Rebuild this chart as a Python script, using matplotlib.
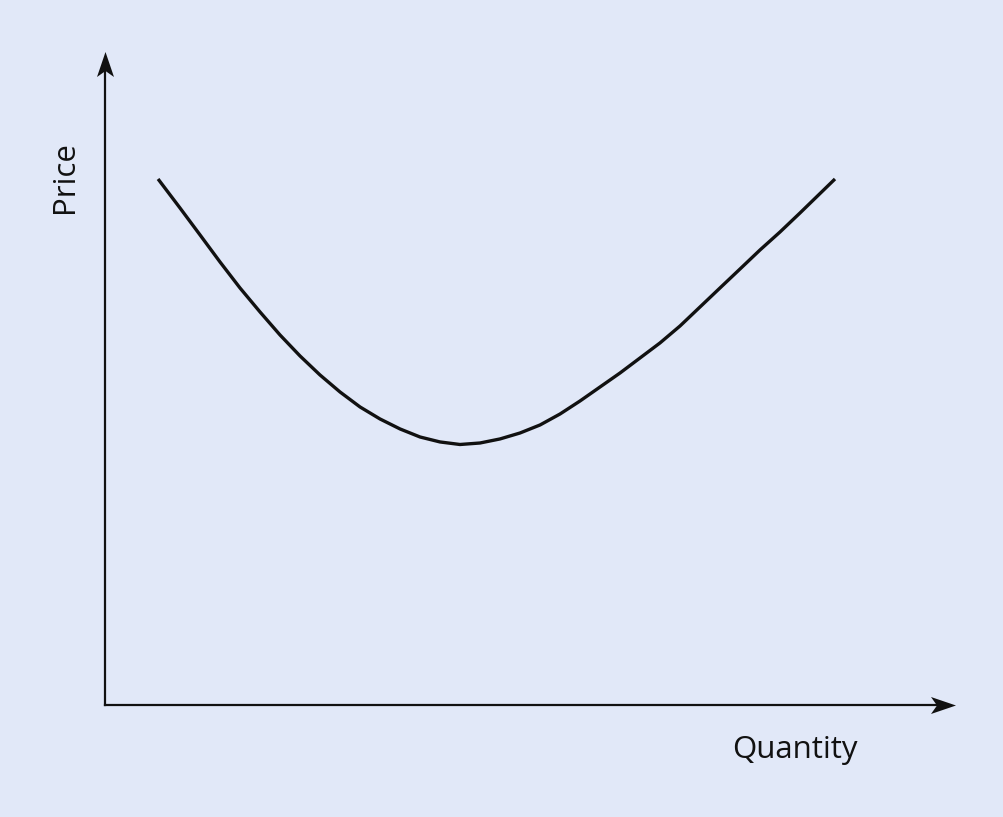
import matplotlib
matplotlib.use("Agg")
import matplotlib.pyplot as plt
from matplotlib.path import Path

# curve (axis units: 0..10 on both axes)
quantity = [0.624, 0.882, 1.118, 1.353, 1.588, 1.824, 2.059, 2.294, 2.529,
            2.765, 3.000, 3.235, 3.471, 3.706, 3.941, 4.176, 4.412, 4.647,
            4.882, 5.118, 5.353, 5.588, 5.824, 6.059, 6.294, 6.529, 6.765,
            7.000, 7.235, 7.471, 7.706, 7.941, 8.176, 8.588]
price = [8.055, 7.611, 7.198, 6.784, 6.386, 6.018, 5.666, 5.345, 5.054,
         4.793, 4.564, 4.380, 4.227, 4.104, 4.028, 3.989, 4.012, 4.074,
         4.165, 4.288, 4.456, 4.655, 4.870, 5.084, 5.314, 5.544, 5.804,
         6.095, 6.386, 6.677, 6.968, 7.243, 7.534, 8.055]

bg = '#e1e8f8'
ink = '#111111'
fig = plt.figure(figsize=(10.04, 8.17), dpi=100, facecolor=bg)
ax = fig.add_axes([0.1046, 0.1371, 0.8466, 0.7993])
ax.set_facecolor(bg)
ax.set_xlim(0, 10)
ax.set_ylim(0, 10)
ax.axis('off')

ax.plot(quantity, price, color=ink, lw=2.4, solid_capstyle='butt',
        solid_joinstyle='round')

# axis lines
ax.plot([0, 9.8], [0, 0], color=ink, lw=1.6, clip_on=False)
ax.plot([0, 0], [0, 9.7], color=ink, lw=1.6, clip_on=False)

# notched arrow heads, centred on the marker origin (length = ms)
codes = [Path.MOVETO, Path.LINETO, Path.LINETO, Path.LINETO, Path.CLOSEPOLY]
head_right = Path([(0.5, 0), (-0.5, 0.34), (-0.26, 0), (-0.5, -0.34), (0.5, 0)], codes)
head_up = Path([(0, 0.5), (0.34, -0.5), (0, -0.26), (-0.34, -0.5), (0, 0.5)], codes)
ax.plot([10 - 0.147], [0], marker=head_right, ms=18, color=ink, mew=0, clip_on=False)
ax.plot([0], [10 - 0.19], marker=head_up, ms=18, color=ink, mew=0, clip_on=False)

fig.text(795 / 1004, 1 - 750 / 817, 'Quantity', fontsize=22.5, family='Open Sans',
         ha='center', va='center', color=ink)
fig.text(65 / 1004, 1 - 177 / 817, 'Price', fontsize=22.5, family='Open Sans',
         ha='center', va='center', rotation=90, color=ink)

fig.savefig('out.png', dpi=100, facecolor=bg)
